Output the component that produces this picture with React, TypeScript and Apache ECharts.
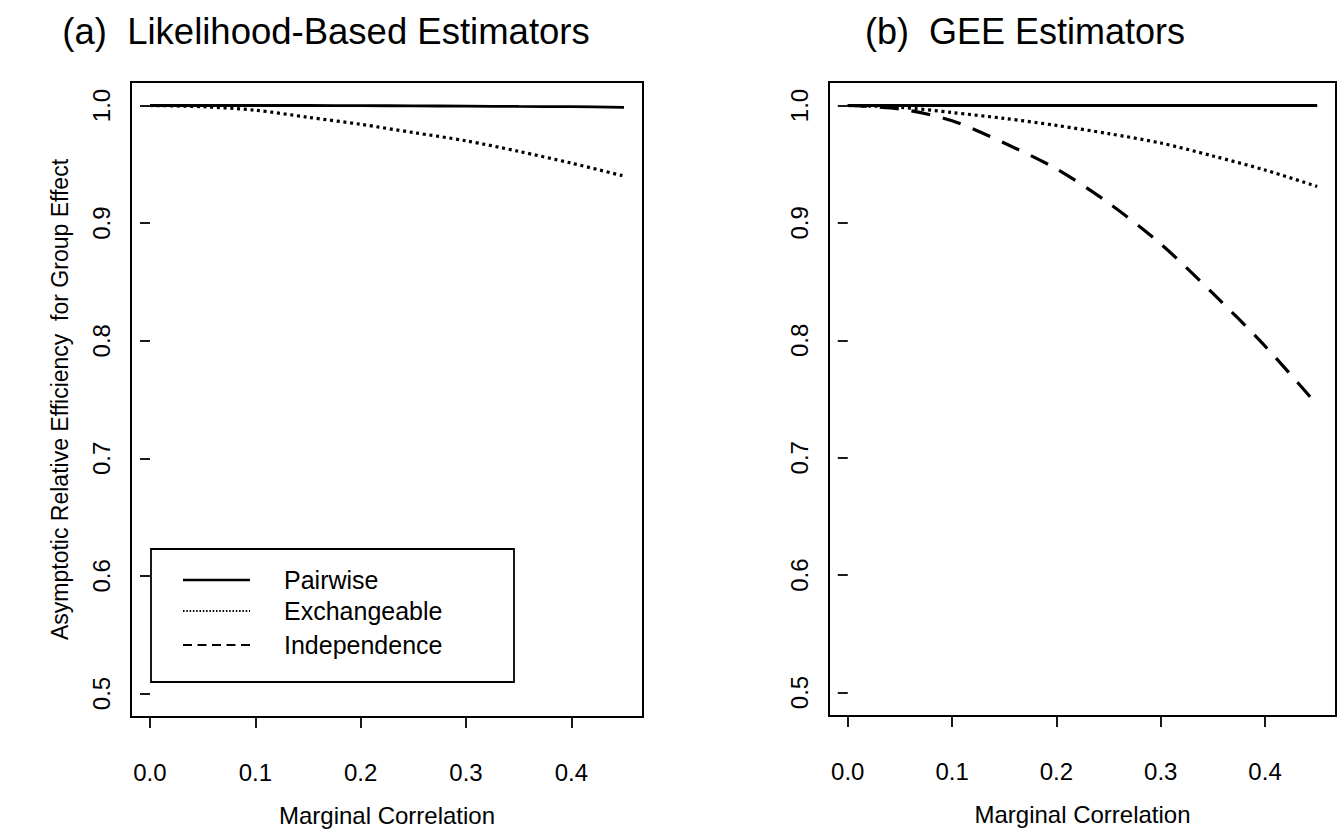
import React, { useEffect, useRef } from "react";
import * as echarts from "echarts";

// ---- data ----
const correlation = [0, 0.05, 0.1, 0.15, 0.2, 0.25, 0.3, 0.35, 0.4, 0.45];
const pairwiseA = [1.0, 1.0, 1.0, 1.0, 0.9999, 0.9997, 0.9995, 0.9992, 0.999, 0.9985];
const exchangeableA = [1.0, 0.999, 0.996, 0.99, 0.984, 0.977, 0.97, 0.961, 0.951, 0.94];
const pairwiseB = [1.0, 1.0, 1.0, 1.0, 1.0, 1.0, 1.0, 1.0, 1.0, 1.0];
const exchangeableB = [1.0, 0.9985, 0.994, 0.989, 0.983, 0.976, 0.968, 0.957, 0.945, 0.931];
const independenceB = [1.0, 0.997, 0.987, 0.968, 0.946, 0.917, 0.882, 0.84, 0.795, 0.745];

const xTicks = [0, 0.1, 0.2, 0.3, 0.4];
const yTicks = [0.5, 0.6, 0.7, 0.8, 0.9, 1.0];
const legendNames = ["Pairwise", "Exchangeable", "Independence"];
const titles = ["(a)  Likelihood-Based Estimators", "(b)  GEE Estimators"];
const xName = "Marginal Correlation";
const yName = "Asymptotic Relative Efficiency  for Group Effect";

const FONT = "Liberation Sans";

const pairs = (ys: number[]) => correlation.map((x, i) => [x, ys[i]]);

export default function App() {
  const ref = useRef<HTMLDivElement>(null);
  useEffect(() => {
    document.body.style.margin = "0";
    if (!ref.current) return;
    const chart = echarts.init(ref.current, undefined, { renderer: "svg" });

    const xAxisBase = (gridIndex: number) => ({
      type: "value",
      gridIndex,
      min: -0.018,
      max: 0.468,
      name: xName,
      nameLocation: "middle",
      nameGap: 86,
      nameTextStyle: { fontSize: 24, color: "#000", fontFamily: FONT },
      axisLine: { show: false },
      splitLine: { show: false },
      axisTick: {
        show: true,
        inside: false,
        length: 11,
        customValues: xTicks,
        lineStyle: { color: "#000", width: 1.8 },
      },
      axisLabel: {
        customValues: xTicks,
        margin: 43,
        fontSize: 24,
        color: "#000",
        fontFamily: FONT,
        formatter: (v: number) => v.toFixed(1),
      },
    });
    const yAxisBase = (gridIndex: number, withName: boolean) => ({
      type: "value",
      gridIndex,
      min: 0.48,
      max: 1.02,
      name: withName ? yName : "",
      nameLocation: "middle",
      nameGap: 60,
      nameRotate: 90,
      nameTextStyle: { fontSize: 23, color: "#000", fontFamily: FONT },
      axisLine: { show: false },
      splitLine: { show: false },
      axisTick: {
        show: true,
        inside: false,
        length: 10,
        customValues: yTicks,
        lineStyle: { color: "#000", width: 1.8 },
      },
      axisLabel: {
        customValues: yTicks,
        rotate: 90,
        margin: 18,
        fontSize: 24,
        color: "#000",
        fontFamily: FONT,
        formatter: (v: number) => v.toFixed(1),
      },
    });

    const solid = { color: "#000", width: 2.8, type: "solid" };
    const dotted = { color: "#000", width: 3.2, type: [3, 3.7] };
    const dashed = { color: "#000", width: 3.2, type: [19, 13] };

    const line = (name: string, ys: number[], idx: number, style: any) => ({
      type: "line",
      name,
      xAxisIndex: idx,
      yAxisIndex: idx,
      data: pairs(ys),
      showSymbol: false,
      symbol: "none",
      smooth: 0.3,
      lineStyle: style,
      silent: true,
    });

    const lx1 = 183;
    const lx2 = 250;
    const rows = [580, 611, 645];

    chart.setOption({
      animation: false,
      backgroundColor: "#fff",
      grid: [
        { left: 131, top: 82, width: 512, height: 635, show: true, borderColor: "#000", borderWidth: 2, backgroundColor: "transparent" },
        { left: 829, top: 82, width: 507, height: 634, show: true, borderColor: "#000", borderWidth: 2, backgroundColor: "transparent" },
      ],
      xAxis: [xAxisBase(0), xAxisBase(1)],
      yAxis: [yAxisBase(0, true), yAxisBase(1, false)],
      series: [
        line(legendNames[0], pairwiseA, 0, solid),
        line(legendNames[1], exchangeableA, 0, dotted),
        line(legendNames[0], pairwiseB, 1, solid),
        line(legendNames[1], exchangeableB, 1, dotted),
        line(legendNames[2], independenceB, 1, dashed),
      ],
      graphic: [
        { type: "text", x: 326, y: 31, style: { text: titles[0], font: `36.5px ${FONT}`, fill: "#000", textAlign: "center", textVerticalAlign: "middle" } },
        { type: "text", x: 1025, y: 31, style: { text: titles[1], font: `36px ${FONT}`, fill: "#000", textAlign: "center", textVerticalAlign: "middle" } },
        { type: "rect", shape: { x: 151, y: 549, width: 363, height: 133 }, style: { fill: "#fff", stroke: "#000", lineWidth: 1.8 } },
        { type: "line", shape: { x1: lx1, y1: rows[0], x2: lx2, y2: rows[0] }, style: { stroke: "#000", lineWidth: 2.4 } },
        { type: "line", shape: { x1: lx1, y1: rows[1], x2: lx2, y2: rows[1] }, style: { stroke: "#000", lineWidth: 1.8, lineDash: [1.5, 1.8] } },
        { type: "line", shape: { x1: lx1, y1: rows[2], x2: lx2, y2: rows[2] }, style: { stroke: "#000", lineWidth: 2.2, lineDash: [9, 5.5] } },
        ...legendNames.map((t, i) => ({
          type: "text",
          x: 284,
          y: rows[i],
          style: { text: t, font: `25px ${FONT}`, fill: "#000", textAlign: "left", textVerticalAlign: "middle" },
        })),
      ],
    });
    return () => chart.dispose();
  }, []);
  return <div ref={ref} style={{ width: 1340, height: 835 }} />;
}
